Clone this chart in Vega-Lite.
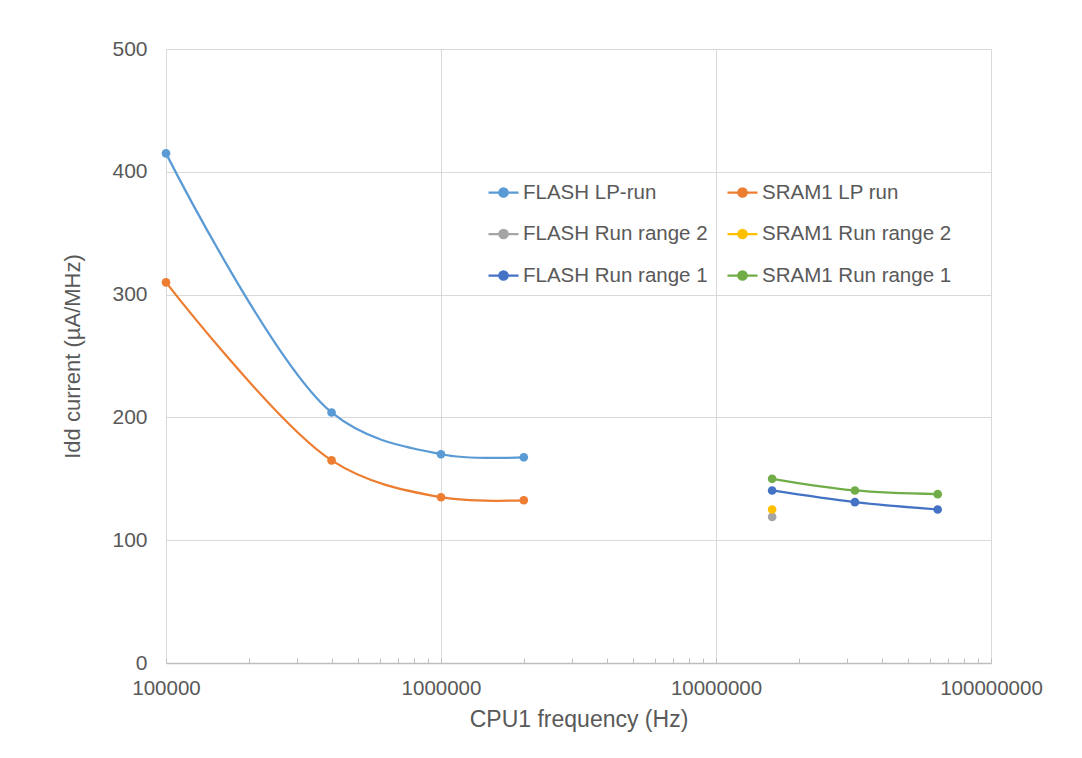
{
  "$schema": "https://vega.github.io/schema/vega-lite/v6.json",
  "autosize": {"type": "none"},
  "width": 825,
  "height": 614,
  "padding": {"left": 166, "top": 49, "right": 91, "bottom": 95},
  "background": "white",
  "config": {
    "view": {"stroke": null},
    "font": "Liberation Sans",
    "axis": {"labelFont": "Liberation Sans", "titleFont": "Liberation Sans", "labelColor": "#595959", "titleColor": "#595959", "titleFontWeight": "normal", "gridColor": "#d9d9d9", "gridWidth": 1},
    "legend": {"labelFont": "Liberation Sans", "labelColor": "#595959"}
  },
  "data": {
    "values": [
      {"series": "FLASH LP-run", "freq": 100000, "idd": 415},
      {"series": "FLASH LP-run", "freq": 400000, "idd": 204},
      {"series": "FLASH LP-run", "freq": 1000000, "idd": 170},
      {"series": "FLASH LP-run", "freq": 2000000, "idd": 167.5},
      {"series": "SRAM1 LP run", "freq": 100000, "idd": 310},
      {"series": "SRAM1 LP run", "freq": 400000, "idd": 165},
      {"series": "SRAM1 LP run", "freq": 1000000, "idd": 135},
      {"series": "SRAM1 LP run", "freq": 2000000, "idd": 132.5},
      {"series": "FLASH Run range 2", "freq": 16000000, "idd": 119},
      {"series": "SRAM1 Run range 2", "freq": 16000000, "idd": 125},
      {"series": "FLASH Run range 1", "freq": 16000000, "idd": 140.5},
      {"series": "FLASH Run range 1", "freq": 32000000, "idd": 131},
      {"series": "FLASH Run range 1", "freq": 64000000, "idd": 125},
      {"series": "SRAM1 Run range 1", "freq": 16000000, "idd": 150},
      {"series": "SRAM1 Run range 1", "freq": 32000000, "idd": 140.5},
      {"series": "SRAM1 Run range 1", "freq": 64000000, "idd": 137.5}
    ]
  },
  "mark": {"type": "line", "interpolate": "catmull-rom", "strokeWidth": 2.25, "point": {"filled": true, "size": 75, "opacity": 1}},
  "encoding": {
    "x": {
      "field": "freq", "type": "quantitative",
      "scale": {"type": "log", "domain": [100000, 100000000], "nice": false},
      "axis": {
        "title": "CPU1 frequency (Hz)",
        "titleFontSize": 23,
        "titlePadding": 10,
        "values": [100000, 200000, 300000, 400000, 500000, 600000, 700000, 800000, 900000, 1000000, 2000000, 3000000, 4000000, 5000000, 6000000, 7000000, 8000000, 9000000, 10000000, 20000000, 30000000, 40000000, 50000000, 60000000, 70000000, 80000000, 90000000, 100000000],
        "format": "d",
        "labelExpr": "(datum.value == 100000 || datum.value == 1000000 || datum.value == 10000000 || datum.value == 100000000) ? datum.label : ''",
        "labelOverlap": false,
        "labelBound": false,
        "labelFlush": false,
        "labelFontSize": 20.5,
        "labelPadding": 20,
        "tickSize": -5,
        "tickColor": "#bfbfbf",
        "domainColor": "#bfbfbf",
        "domainWidth": 1.5,
        "gridOpacity": {"condition": {"test": "datum.value == 100000 || datum.value == 1000000 || datum.value == 10000000 || datum.value == 100000000", "value": 1}, "value": 0}
      }
    },
    "y": {
      "field": "idd", "type": "quantitative",
      "scale": {"domain": [0, 500], "nice": false},
      "axis": {
        "title": "Idd current (µA/MHz)",
        "titleFontSize": 22,
        "titlePadding": 27,
        "values": [0, 100, 200, 300, 400, 500],
        "domain": false,
        "ticks": false,
        "labelFontSize": 21,
        "labelPadding": 19
      }
    },
    "color": {
      "field": "series", "type": "nominal",
      "scale": {
        "domain": ["FLASH LP-run", "SRAM1 LP run", "FLASH Run range 2", "SRAM1 Run range 2", "FLASH Run range 1", "SRAM1 Run range 1"],
        "range": ["#5B9BD5", "#ED7D31", "#A5A5A5", "#FFC000", "#4472C4", "#70AD47"]
      },
      "legend": {
        "title": null,
        "orient": "none",
        "direction": "horizontal",
        "legendX": 321,
        "legendY": 127,
        "columns": 2,
        "columnPadding": 15,
        "rowPadding": 14.5,
        "labelFontSize": 20.5,
        "labelLimit": 400,
        "labelOffset": 3,
        "symbolType": "M-1,0L1,0M-0.28,0A0.28,0.28,0,1,0,0.28,0A0.28,0.28,0,1,0,-0.28,0Z",
        "symbolSize": 900,
        "symbolStrokeWidth": 2.25,
        "encode": {"symbols": {"update": {"fill": {"scale": "color", "field": "value"}, "stroke": {"scale": "color", "field": "value"}, "opacity": {"value": 1}}}}
      }
    }
  }
}
